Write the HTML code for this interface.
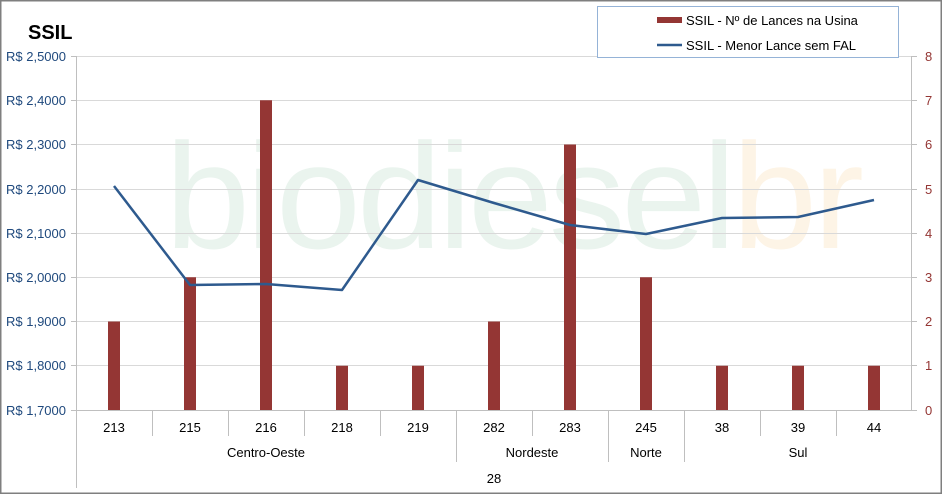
<!DOCTYPE html>
<html><head><meta charset="utf-8"><style>
body{margin:0;background:#fff}
svg{display:block;font-family:"Liberation Sans",sans-serif}
</style></head><body>
<svg width="942" height="494" viewBox="0 0 942 494" xmlns="http://www.w3.org/2000/svg">
<rect x="0.75" y="0.75" width="940.5" height="492.5" fill="#fff" stroke="#7f7f7f" stroke-width="1.5"/>
<text x="165" y="248" font-size="150" fill="#eaf4ee" letter-spacing="-4" textLength="695" lengthAdjust="spacingAndGlyphs">biodiesel<tspan fill="#fdf4e6">br</tspan></text>
<g stroke="#d9d9d9" stroke-width="1">
<line x1="76" y1="56.5" x2="912" y2="56.5"/><line x1="76" y1="100.5" x2="912" y2="100.5"/><line x1="76" y1="144.5" x2="912" y2="144.5"/><line x1="76" y1="189.5" x2="912" y2="189.5"/><line x1="76" y1="233.5" x2="912" y2="233.5"/><line x1="76" y1="277.5" x2="912" y2="277.5"/><line x1="76" y1="321.5" x2="912" y2="321.5"/><line x1="76" y1="365.5" x2="912" y2="365.5"/>
</g>
<g stroke="#bfbfbf" stroke-width="1">
<line x1="76.5" y1="56" x2="76.5" y2="488"/><line x1="911.5" y1="56" x2="911.5" y2="410"/>
<line x1="71" y1="410.5" x2="917" y2="410.5"/>
<line x1="71" y1="56.5" x2="76" y2="56.5"/><line x1="71" y1="100.5" x2="76" y2="100.5"/><line x1="71" y1="144.5" x2="76" y2="144.5"/><line x1="71" y1="189.5" x2="76" y2="189.5"/><line x1="71" y1="233.5" x2="76" y2="233.5"/><line x1="71" y1="277.5" x2="76" y2="277.5"/><line x1="71" y1="321.5" x2="76" y2="321.5"/><line x1="71" y1="365.5" x2="76" y2="365.5"/>
<line x1="912" y1="56.5" x2="917" y2="56.5"/><line x1="912" y1="100.5" x2="917" y2="100.5"/><line x1="912" y1="144.5" x2="917" y2="144.5"/><line x1="912" y1="189.5" x2="917" y2="189.5"/><line x1="912" y1="233.5" x2="917" y2="233.5"/><line x1="912" y1="277.5" x2="917" y2="277.5"/><line x1="912" y1="321.5" x2="917" y2="321.5"/><line x1="912" y1="365.5" x2="917" y2="365.5"/>
<line x1="152.5" y1="410" x2="152.5" y2="436"/><line x1="228.5" y1="410" x2="228.5" y2="436"/><line x1="304.5" y1="410" x2="304.5" y2="436"/><line x1="380.5" y1="410" x2="380.5" y2="436"/><line x1="532.5" y1="410" x2="532.5" y2="436"/><line x1="760.5" y1="410" x2="760.5" y2="436"/><line x1="836.5" y1="410" x2="836.5" y2="436"/>
<line x1="456.5" y1="410" x2="456.5" y2="462"/><line x1="608.5" y1="410" x2="608.5" y2="462"/><line x1="684.5" y1="410" x2="684.5" y2="462"/>
</g>
<g fill="#943634">
<rect x="108" y="321.5" width="12" height="88.5"/><rect x="184" y="277.25" width="12" height="132.75"/><rect x="260" y="100.25" width="12" height="309.75"/><rect x="336" y="365.75" width="12" height="44.25"/><rect x="412" y="365.75" width="12" height="44.25"/><rect x="488" y="321.5" width="12" height="88.5"/><rect x="564" y="144.5" width="12" height="265.5"/><rect x="640" y="277.25" width="12" height="132.75"/><rect x="716" y="365.75" width="12" height="44.25"/><rect x="792" y="365.75" width="12" height="44.25"/><rect x="868" y="365.75" width="12" height="44.25"/>
</g>
<polyline fill="none" stroke="#2e5a8e" stroke-width="2.5" stroke-linejoin="round" points="114,186 190,285 266,284 342,290 418,180 494,203 570,225 646,234 722,218 798,217 874,200"/>
<g font-size="13" fill="#1f497d" text-anchor="end">
<text x="66" y="61">R$ 2,5000</text><text x="66" y="105">R$ 2,4000</text><text x="66" y="149">R$ 2,3000</text><text x="66" y="194">R$ 2,2000</text><text x="66" y="238">R$ 2,1000</text><text x="66" y="282">R$ 2,0000</text><text x="66" y="326">R$ 1,9000</text><text x="66" y="370">R$ 1,8000</text><text x="66" y="415">R$ 1,7000</text>
</g>
<g font-size="13" fill="#943634">
<text x="925" y="61">8</text><text x="925" y="105">7</text><text x="925" y="149">6</text><text x="925" y="194">5</text><text x="925" y="238">4</text><text x="925" y="282">3</text><text x="925" y="326">2</text><text x="925" y="370">1</text><text x="925" y="415">0</text>
</g>
<g font-size="13" fill="#000" text-anchor="middle">
<text x="114" y="432">213</text><text x="190" y="432">215</text><text x="266" y="432">216</text><text x="342" y="432">218</text><text x="418" y="432">219</text><text x="494" y="432">282</text><text x="570" y="432">283</text><text x="646" y="432">245</text><text x="722" y="432">38</text><text x="798" y="432">39</text><text x="874" y="432">44</text>
<text x="266" y="457">Centro-Oeste</text><text x="532" y="457">Nordeste</text><text x="646" y="457">Norte</text><text x="798" y="457">Sul</text>
<text x="494" y="483">28</text>
</g>
<text x="28" y="39" font-size="20" font-weight="bold" fill="#000">SSIL</text>
<rect x="597.5" y="6.5" width="301" height="51" fill="#fff" stroke="#95b3d7"/>
<rect x="657" y="17" width="25" height="6" fill="#943634"/>
<line x1="657" y1="45" x2="682" y2="45" stroke="#2e5a8e" stroke-width="2.5"/>
<g font-size="13" fill="#000"><text x="686" y="25">SSIL - Nº de Lances na Usina</text><text x="686" y="50">SSIL - Menor Lance sem FAL</text></g>
</svg>
</body></html>
